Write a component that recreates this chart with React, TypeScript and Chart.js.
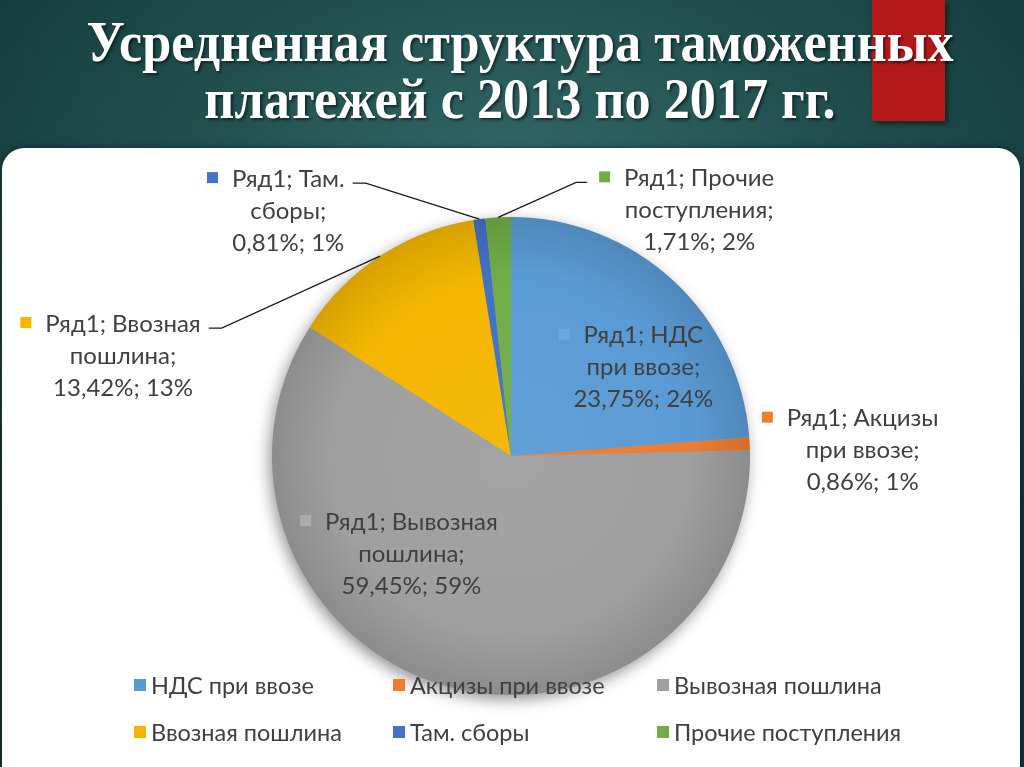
import React, { useEffect, useRef } from "react";
import { Chart, registerables } from "chart.js";

Chart.register(...registerables);

// ---------- data ----------
const titleLines = ["Усредненная структура таможенных", "платежей с 2013 по 2017 гг."];
const seriesName = "Ряд1";
const categories = [
  "НДС при ввозе",
  "Акцизы при ввозе",
  "Вывозная пошлина",
  "Ввозная пошлина",
  "Там. сборы",
  "Прочие поступления",
];
const shares = [23.75, 0.86, 59.45, 13.42, 0.81, 1.71];
const sliceColors = ["#5B9BD5", "#ED7D31", "#9F9F9F", "#F3B600", "#4472C4", "#70AD47"];

// ---------- styles ----------
// label placement: anchor at r * outerRadius on the slice's mid angle, then offset
const labelPlacement = [
  { r: 0.6, dx: 35, dy: 17, leader: false, inside: true },
  { r: 1, dx: 113, dy: 7, leader: false, inside: false },
  { r: 0.6, dx: -61, dy: -40, leader: false, inside: true },
  { r: 1, dx: -257, dy: 100, leader: true, inside: false },
  { r: 1, dx: -191, dy: -8, leader: true, inside: false },
  { r: 1, dx: 201, dy: -7, leader: true, inside: false },
];
const LABEL_FONT = "24px Lato, 'Open Sans', sans-serif";
const LEGEND_FONT = "23.5px Lato, 'Open Sans', sans-serif";
const TEXT_COLOR = "#404040";
const legendCols = [140, 399, 663];
const legendRows = [537, 584];

function shade(hex: string, f: number) {
  const n = parseInt(hex.slice(1), 16);
  let r = (n >> 16) & 255, g = (n >> 8) & 255, b = n & 255;
  const t = f < 0 ? 0 : 255;
  const p = Math.abs(f);
  r = Math.round((t - r) * p + r);
  g = Math.round((t - g) * p + g);
  b = Math.round((t - b) * p + b);
  return `rgb(${r},${g},${b})`;
}

function fmt(v: number) {
  return v.toFixed(2).replace(".", ",") + "%; " + Math.round(v) + "%";
}

function labelLines(i: number) {
  const name = categories[i];
  const sp = name.indexOf(" ");
  return [`${seriesName}; ${name.slice(0, sp)}`, `${name.slice(sp + 1)};`, fmt(shares[i])];
}

const shadowPlugin = {
  id: "pieShadow",
  beforeDatasetsDraw(chart: any) {
    const arc = chart.getDatasetMeta(0).data[0];
    if (!arc) return;
    const ctx = chart.ctx;
    ctx.save();
    ctx.shadowColor = "rgba(0,0,0,0.45)";
    ctx.shadowBlur = 16;
    ctx.shadowOffsetX = -3;
    ctx.shadowOffsetY = 5;
    ctx.fillStyle = "#999";
    ctx.beginPath();
    ctx.arc(arc.x, arc.y, arc.outerRadius - 1, 0, Math.PI * 2);
    ctx.fill();
    ctx.restore();
  },
};

const labelPlugin = {
  id: "sliceLabels",
  afterDatasetsDraw(chart: any) {
    const ctx = chart.ctx;
    const meta = chart.getDatasetMeta(0);
    const lh = 32;
    meta.data.forEach((arc: any, i: number) => {
      const p = labelPlacement[i];
      const mid = (arc.startAngle + arc.endAngle) / 2;
      const ax = arc.x + Math.cos(mid) * arc.outerRadius * p.r;
      const ay = arc.y + Math.sin(mid) * arc.outerRadius * p.r;
      const cx = ax + p.dx;
      const cy = ay + p.dy;
      const lines = labelLines(i);
      ctx.save();
      ctx.font = LABEL_FONT;
      ctx.textAlign = "center";
      ctx.textBaseline = "middle";
      ctx.fillStyle = TEXT_COLOR;
      const top = cy - (lh * (lines.length - 1)) / 2;
      lines.forEach((t, k) => ctx.fillText(t, cx, top + k * lh));
      const w0 = ctx.measureText(lines[0]).width;
      const ms = 11;
      const mx = cx - w0 / 2 - 14 - ms;
      ctx.fillStyle = p.inside ? shade(sliceColors[i], 0.12) : sliceColors[i];
      ctx.fillRect(mx, top - 7, ms, ms);
      if (p.leader) {
        ctx.strokeStyle = "#1a1a1a";
        ctx.lineWidth = 1.3;
        const ly = top + 4;
        ctx.beginPath();
        if (p.dx < 0) {
          const sx = cx + w0 / 2 + 8;
          ctx.moveTo(sx, ly);
          ctx.lineTo(sx + 13, ly);
        } else {
          const sx = mx - 12;
          ctx.moveTo(sx, ly);
          ctx.lineTo(sx - 11, ly);
        }
        ctx.lineTo(ax, ay);
        ctx.stroke();
      }
      ctx.restore();
    });
  },
};

const legendPlugin = {
  id: "gridLegend",
  afterDraw(chart: any) {
    const ctx = chart.ctx;
    ctx.save();
    ctx.font = LEGEND_FONT;
    ctx.textAlign = "left";
    ctx.textBaseline = "middle";
    categories.forEach((c, i) => {
      const x = legendCols[i % 3];
      const y = legendRows[Math.floor(i / 3)];
      ctx.fillStyle = sliceColors[i];
      ctx.fillRect(x - 6, y - 6, 12, 12);
      ctx.fillStyle = TEXT_COLOR;
      ctx.fillText(c, x + 11, y + 1);
    });
    ctx.restore();
  },
};

export default function App() {
  const ref = useRef<HTMLCanvasElement | null>(null);
  useEffect(() => {
    if (!ref.current) return;
    const chart = new Chart(ref.current, {
      type: "pie",
      data: {
        labels: categories,
        datasets: [
          {
            label: seriesName,
            data: shares,
            borderWidth: 0,
            backgroundColor: (c: any) => {
              const ch = c.chart;
              const area = ch.chartArea;
              const base = sliceColors[c.dataIndex % sliceColors.length];
              if (!area) return base;
              const x = (area.left + area.right) / 2;
              const y = (area.top + area.bottom) / 2;
              const r = Math.min(area.right - area.left, area.bottom - area.top) / 2;
              const g = ch.ctx.createRadialGradient(x, y, 0, x, y, r);
              g.addColorStop(0, shade(base, 0.04));
              g.addColorStop(0.75, base);
              g.addColorStop(1, shade(base, -0.12));
              return g;
            },
          },
        ],
      },
      options: {
        responsive: false,
        animation: false,
        devicePixelRatio: 1,
        layout: { padding: { top: 69, bottom: 72, left: 100, right: 102 } },
        plugins: {
          legend: { display: false },
          tooltip: { enabled: false },
          title: { display: false },
        },
      },
      plugins: [shadowPlugin, labelPlugin, legendPlugin],
    });
    return () => chart.destroy();
  }, []);

  return (
    <div
      style={{
        position: "fixed",
        left: 0,
        top: 0,
        width: 1024,
        height: 767,
        overflow: "hidden",
        background:
          "radial-gradient(ellipse 70% 60% at 50% 25%, #35696b 0%, #22504f 45%, #123437 100%)",
      }}
    >
      <div
        style={{
          position: "absolute",
          left: 872,
          top: 0,
          width: 73,
          height: 121,
          background: "#b3191b",
          boxShadow: "3px 3px 5px rgba(0,0,0,0.45)",
        }}
      />
      <div
        style={{
          position: "absolute",
          left: 0,
          top: 13,
          width: 1040,
          textAlign: "center",
          fontFamily: "'Liberation Serif', 'Times New Roman', serif",
          fontWeight: "bold",
          fontSize: 58,
          lineHeight: "57px",
          color: "#ffffff",
          textShadow: "2px 2px 3px rgba(0,0,0,0.55)",
          transform: "scaleX(0.9)",
          transformOrigin: "520px 0",
        }}
      >
        {titleLines.map((t, i) => (
          <div key={i}>{t}</div>
        ))}
      </div>
      <div
        style={{
          position: "absolute",
          left: 2,
          top: 148,
          width: 1018,
          height: 660,
          background: "#ffffff",
          borderRadius: 22,
          boxShadow: "0 0 6px rgba(0,0,0,0.5)",
        }}
      />
      <canvas
        ref={ref}
        width={1024}
        height={619}
        style={{ position: "absolute", left: 0, top: 148, width: 1024, height: 619 }}
      />
    </div>
  );
}
